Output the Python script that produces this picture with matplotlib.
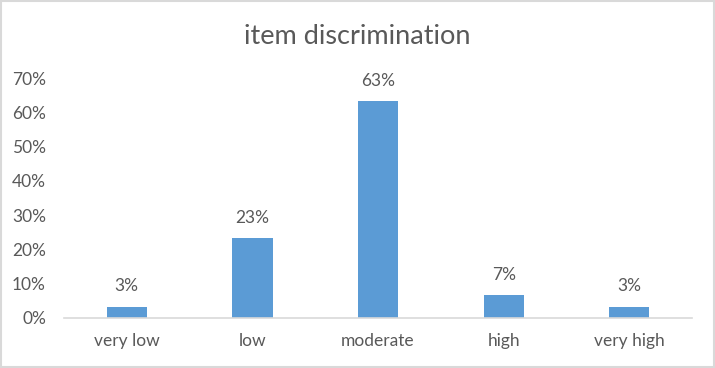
import matplotlib.pyplot as plt
from matplotlib.patches import Rectangle

categories = ["very low", "low", "moderate", "high", "very high"]
shares = [1 / 30, 7 / 30, 19 / 30, 2 / 30, 1 / 30]
labels = ["3%", "23%", "63%", "7%", "3%"]
yticks = [0, 0.1, 0.2, 0.3, 0.4, 0.5, 0.6, 0.7]

plt.rcParams["font.family"] = ["Lato", "DejaVu Sans"]
text_color = "#595959"

fig = plt.figure(figsize=(7.15, 3.68), dpi=100)
ax = fig.add_axes([0.0895, 0.136, 0.8785, 0.652])

x = range(len(categories))
bars = ax.bar(x, shares, width=0.32, color="#5B9BD5")

# value labels above the bars
for bar, text in zip(bars, labels):
    ax.text(bar.get_x() + bar.get_width() / 2, bar.get_height() + 0.036, text,
            ha="center", va="bottom", fontsize=12.5, color=text_color)

ax.set_xlim(-0.5, len(categories) - 0.5)
ax.set_ylim(0, 0.7)
ax.set_yticks(yticks)
ax.set_yticklabels([f"{int(round(v * 100))}%" for v in yticks])
ax.set_xticks(list(x))
ax.set_xticklabels(categories)
ax.tick_params(axis="both", length=0, labelsize=12.5, labelcolor=text_color)
ax.tick_params(axis="x", pad=11)
ax.tick_params(axis="y", pad=13)

for side in ["top", "right", "left"]:
    ax.spines[side].set_visible(False)
ax.spines["bottom"].set_color("#D9D9D9")
ax.spines["bottom"].set_linewidth(1.2)

fig.text(0.5, 0.9, "item discrimination", ha="center", va="center",
         fontsize=19.5, color=text_color)

fig.patches.append(Rectangle((0.002, 0.003), 0.996, 0.994, transform=fig.transFigure,
                             fill=False, edgecolor="#D9D9D9", linewidth=1.5))

fig.savefig("out.png", dpi=100)
